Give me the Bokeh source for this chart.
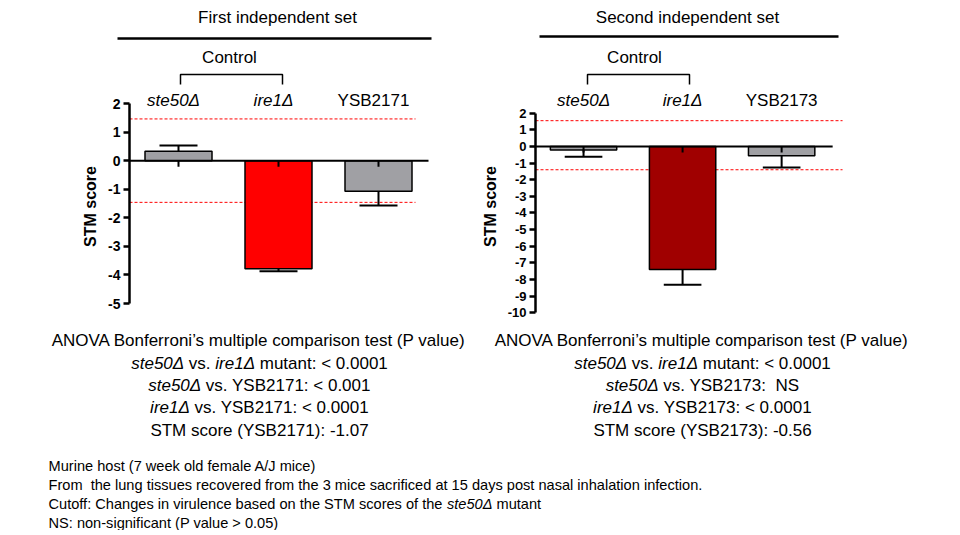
from bokeh.plotting import figure
from bokeh.layouts import column, row
from bokeh.models import ColumnDataSource, Range1d, FixedTicker, LinearAxis
from bokeh.core.properties import value
from bokeh.embed import file_html
from bokeh.resources import INLINE

FONT = "Liberation Sans"

# ---------------- data ----------------
strains_1 = ["ste50Δ", "ire1Δ", "YSB2171"]
scores_1 = [0.33, -3.78, -1.07]
sem_1 = [0.20, 0.09, 0.50]
cutoff_1 = [1.46, -1.46]
colors_1 = ["#A0A0A4", "#FF0000", "#A0A0A4"]
yticks_1 = [-5, -4, -3, -2, -1, 0, 1, 2]

strains_2 = ["ste50Δ", "ire1Δ", "YSB2173"]
scores_2 = [-0.22, -7.40, -0.56]
sem_2 = [0.40, 0.92, 0.70]
cutoff_2 = [1.55, -1.40]
colors_2 = ["#A0A0A4", "#A00000", "#A0A0A4"]
yticks_2 = [-10, -9, -8, -7, -6, -5, -4, -3, -2, -1, 0, 1, 2]

italic_strain = [True, True, False]
titles = ["First independent set", "Second independent set"]
control_label = "Control"
y_label = "STM score"

stats_1 = [
    [("ANOVA Bonferroni’s multiple comparison test (P value)", "normal")],
    [("ste50Δ", "italic"), (" vs. ", "normal"), ("ire1Δ", "italic"), (" mutant: < 0.0001", "normal")],
    [("ste50Δ", "italic"), (" vs. YSB2171: < 0.001", "normal")],
    [("ire1Δ", "italic"), (" vs. YSB2171: < 0.0001", "normal")],
    [("STM score (YSB2171): -1.07", "normal")],
]
stats_2 = [
    [("ANOVA Bonferroni’s multiple comparison test (P value)", "normal")],
    [("ste50Δ", "italic"), (" vs. ", "normal"), ("ire1Δ", "italic"), (" mutant: < 0.0001", "normal")],
    [("ste50Δ", "italic"), (" vs. YSB2173:  NS", "normal")],
    [("ire1Δ", "italic"), (" vs. YSB2173: < 0.0001", "normal")],
    [("STM score (YSB2173): -0.56", "normal")],
]
notes = [
    [("Murine host (7 week old female A/J mice)", "normal")],
    [("From  the lung tissues recovered from the 3 mice sacrificed at 15 days post nasal inhalation infection.", "normal")],
    [("Cutoff: Changes in virulence based on the STM scores of the ", "normal"), ("ste50Δ", "italic"), (" mutant", "normal")],
    [("NS: non-significant (P value > 0.05)", "normal")],
]

# ---------------- text metrics (Arial / Liberation Sans) ----------------
W = {' ': 278, '\u00a0': 278, '(': 333, ')': 333, '-': 333, '.': 278, '/': 278, ':': 278,
     '<': 584, '>': 584, '’': 222, 'Δ': 668, ',': 278}
for d in "0123456789":
    W[d] = 556
W.update(dict(zip("ABCDEFGHIJKLMNOPQRSTUVWXYZ",
                  [667, 667, 722, 722, 667, 611, 778, 722, 278, 500, 667, 556, 833, 722, 778,
                   667, 778, 722, 667, 611, 722, 667, 944, 667, 667, 611])))
W.update(dict(zip("abcdefghijklmnopqrstuvwxyz",
                  [556, 556, 500, 556, 556, 278, 556, 556, 222, 222, 500, 222, 833, 556, 556,
                   556, 556, 333, 500, 278, 556, 500, 722, 500, 500, 500])))


def tw(s, size):
    return sum(W.get(c, 556) for c in s) / 1000.0 * size


def rich_lines(p, lines, ys, size, cx=None, left=None):
    xs_, ys_, ts_, st_ = [], [], [], []
    for segs, y in zip(lines, ys):
        total = sum(tw(t, size) for t, _ in segs)
        x = (cx - total / 2.0) if cx is not None else left
        for t, s in segs:
            lead = len(t) - len(t.lstrip(" "))
            shown = t.strip(" ").replace("  ", "\u00a0 ")
            xs_.append(x + tw(" " * lead, size)); ys_.append(y); ts_.append(shown); st_.append(s)
            x += tw(t, size)
    src = ColumnDataSource(dict(x=xs_, y=ys_, text=ts_, style=st_))
    p.text(x="x", y="y", text="text", source=src, text_font=value(FONT),
           text_font_size=value(f"{size}px"), text_font_style="style",
           text_align="left", text_baseline="middle", text_color="black")


# ---------------- top strip (titles, control brackets) ----------------
top = figure(width=952, height=88, x_range=Range1d(0, 952), y_range=Range1d(88, 0),
             x_axis_type=None, y_axis_type=None, toolbar_location=None,
             output_backend="svg", min_border=0, outline_line_color=None)
top.text(x=[277, 687], y=[17, 17], text=titles, text_font=value(FONT),
         text_font_size=value("17px"), text_align="center", text_baseline="middle",
         text_color="black")
top.segment(x0=[117, 539], y0=[38, 36], x1=[431, 838], y1=[38, 36],
            line_color="black", line_width=2.5)
top.text(x=[229, 634], y=[57, 57], text=[control_label, control_label], text_font=value(FONT),
         text_font_size=value("17px"), text_align="center", text_baseline="middle",
         text_color="black")
top.multi_line(xs=[[180, 180, 282, 282], [587, 587, 689, 689]],
               ys=[[84, 74, 74, 84], [84, 74, 74, 84]], line_color="black", line_width=1.5)

FRAME_TOP, FRAME_BOT = 88, 324


# ---------------- bar charts ----------------
def chart(strains, scores, sem, cutoff, colors, yticks, fig_left, fig_w, axis_px, c0_px,
          y2_px, k, zero_end, cut_end, label_dx, tick_size):
    xr = Range1d((axis_px - c0_px) / 100.0, (fig_left + fig_w - c0_px) / 100.0)
    yr = Range1d(2 - (FRAME_BOT - y2_px) / k, 2 + (y2_px - FRAME_TOP) / k)
    p = figure(width=fig_w, height=FRAME_BOT - FRAME_TOP, x_range=xr, y_range=yr,
               x_axis_type=None, y_axis_type=None, toolbar_location=None,
               output_backend="svg", min_border_left=axis_px - fig_left, min_border_right=0,
               min_border_top=0, min_border_bottom=0, outline_line_color=None)
    xs = list(range(len(strains)))
    x0 = xr.start
    # cutoff lines
    p.segment(x0=[x0] * len(cutoff), y0=cutoff, x1=[cut_end] * len(cutoff), y1=cutoff,
              line_color="#FF0000", line_width=1, line_dash="3 2")
    # bars
    p.vbar(x=xs, top=scores, bottom=0, width=0.67, fill_color=colors,
           line_color="black", line_width=1.5)
    # error bars (away from zero)
    ends = [s + (e if s >= 0 else -e) for s, e in zip(scores, sem)]
    p.segment(x0=xs, y0=scores, x1=xs, y1=ends, line_color="black", line_width=2)
    p.segment(x0=[x - 0.19 for x in xs], y0=ends, x1=[x + 0.19 for x in xs], y1=ends,
              line_color="black", line_width=2)
    stub = 6.0 / k
    p.segment(x0=xs, y0=[0] * len(xs), x1=xs, y1=[-stub] * len(xs),
              line_color="black", line_width=2)
    # zero line
    p.segment(x0=[x0], y0=[0], x1=[zero_end], y1=[0], line_color="black", line_width=2)
    # category labels
    src = ColumnDataSource(dict(x=[x + label_dx for x in xs], y=[2 + (y2_px - 100) / k] * len(xs),
                                text=strains,
                                style=["italic" if i else "normal" for i in italic_strain]))
    p.text(x="x", y="y", text="text", source=src, text_font=value(FONT),
           text_font_size=value("17px"), text_font_style="style", text_align="center",
           text_baseline="middle", text_color="black")
    ax = LinearAxis(bounds=(yticks[0], yticks[-1]), ticker=FixedTicker(ticks=yticks),
                    axis_label=y_label)
    ax.major_label_overrides = {t: str(t) for t in yticks}
    ax.axis_line_width = 2.5
    ax.axis_line_color = "black"
    ax.major_tick_line_width = 2.5
    ax.major_tick_line_color = "black"
    ax.major_tick_out = 6
    ax.major_tick_in = 0
    ax.minor_tick_out = 0
    ax.minor_tick_in = 0
    ax.major_label_text_font = FONT
    ax.major_label_text_font_style = "bold"
    ax.major_label_text_font_size = f"{tick_size}px"
    ax.major_label_text_color = "black"
    ax.major_label_standoff = 3
    ax.axis_label_text_font = FONT
    ax.axis_label_text_font_style = "bold"
    ax.axis_label_text_font_size = "16px"
    ax.axis_label_text_color = "black"
    ax.axis_label_standoff = 6
    p.add_layout(ax, "left")
    return p


left = chart(strains_1, scores_1, sem_1, cutoff_1, colors_1, yticks_1,
             fig_left=0, fig_w=478, axis_px=129, c0_px=178, y2_px=103, k=200 / 7.0,
             zero_end=2.5, cut_end=2.37, label_dx=-0.05, tick_size=14)
right = chart(strains_2, scores_2, sem_2, cutoff_2, colors_2, yticks_2,
              fig_left=478, fig_w=474, axis_px=531, c0_px=579.5, y2_px=112.7, k=16.63,
              zero_end=2.515, cut_end=2.615, label_dx=0.0, tick_size=13)

# ---------------- bottom text ----------------
bottom = figure(width=952, height=530 - FRAME_BOT, x_range=Range1d(0, 952),
                y_range=Range1d(530, FRAME_BOT),
                x_axis_type=None, y_axis_type=None, toolbar_location=None,
                output_backend="svg", min_border=0, outline_line_color=None)
stat_ys = [340, 363, 385, 407, 430]
rich_lines(bottom, stats_1, stat_ys, 17, cx=259)
rich_lines(bottom, stats_2, stat_ys, 17, cx=702)
rich_lines(bottom, notes, [465, 484, 503, 522], 14.6, left=48)

page = column(top, row(left, right), bottom)
open("out.html", "w").write(file_html(page, INLINE))
